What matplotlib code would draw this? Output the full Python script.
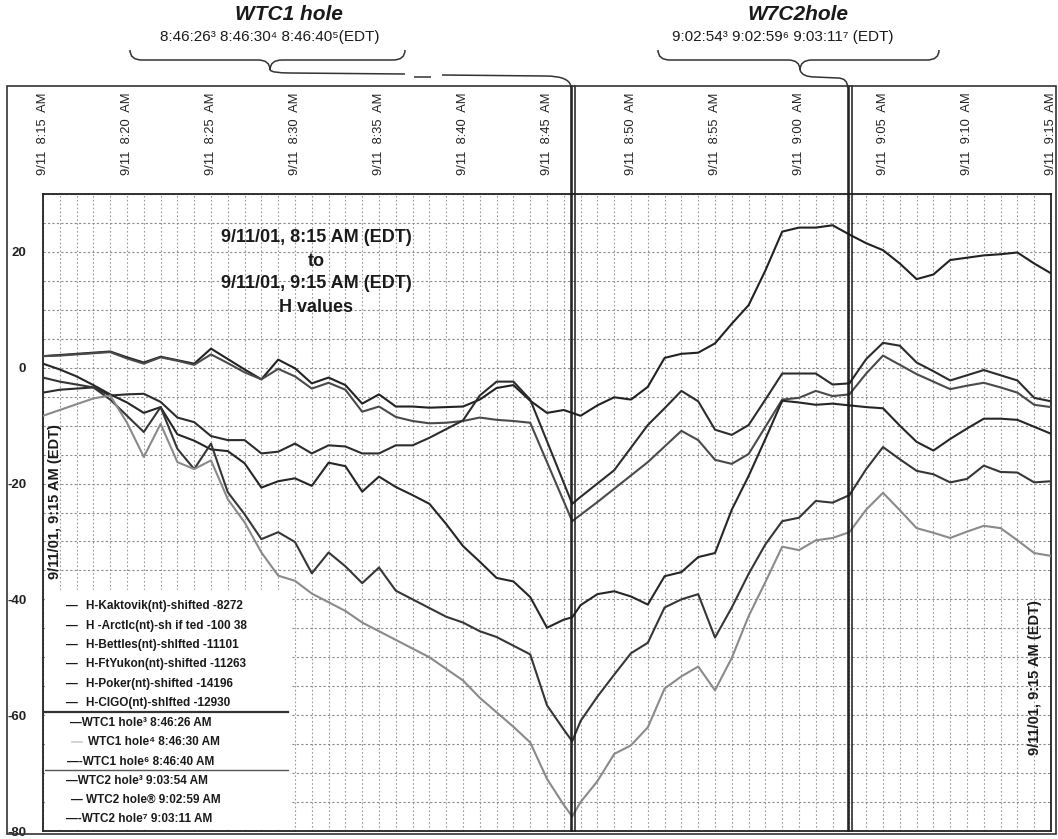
import matplotlib
matplotlib.use('Agg')
import matplotlib.pyplot as plt
from matplotlib.path import Path
from matplotlib.patches import PathPatch, Rectangle
from matplotlib.lines import Line2D

plt.rcParams['font.family'] = ['Liberation Sans', 'DejaVu Sans']

# ---------------- data ----------------
# minutes after 9/11 8:15 AM (EDT)
minutes = [0, 1, 2, 3, 4, 5, 6, 7, 8, 9, 10, 11, 12, 13, 14, 15, 16, 17, 18, 19,
           20, 21, 22, 23, 24, 25, 26, 27, 28, 29, 30, 31, 31.5,
           32, 33, 34, 35, 36, 37, 38, 39, 40, 41, 42, 43, 44, 45, 46, 47, 48, 49,
           50, 51, 52, 53, 54, 55, 56, 57, 58, 59, 60]

kaktovik = [2.0, 2.2, 2.4, 2.6, 2.8, 1.8, 0.9, 1.9, 1.3, 0.7,
            3.3, 1.5, -0.3, -2.0, 1.4, -0.1, -2.7, -1.7, -3.0, -6.2,
            -4.6, -6.7, -6.7, -6.9, -6.8, -6.7, -5.5, -3.5, -3.0, -5.7,
            -7.8, -7.3, -7.8,
            -8.3, -6.5, -5.1, -5.5, -3.3, 1.7, 2.4, 2.6,
            4.2, 7.6, 10.8, 16.8, 23.5, 24.2, 24.2, 24.6, 23.0, 21.5,
            20.3, 18.0, 15.3, 16.1, 18.6, 19.0, 19.4, 19.6, 19.9, 18.0, 16.3]

arctic = [2.0, 2.1, 2.3, 2.5, 2.7, 1.6, 0.7, 1.8, 1.2, 0.5,
          2.3, 0.8, -0.8, -2.0, -0.2, -1.5, -3.6, -2.6, -3.8, -7.6,
          -6.7, -8.5, -9.2, -9.6, -9.5, -9.2, -8.6, -9.0, -9.2, -9.5,
          -16.3, -23.1, -26.5,
          -25.4, -23.2, -20.9, -18.6, -16.3, -13.6, -10.9, -12.5,
          -15.9, -16.6, -14.9, -10.2, -5.5, -5.2, -4.0, -4.9, -4.6, -1.0,
          2.1, 0.5, -1.1, -2.4, -3.7, -3.1, -2.6, -3.4, -4.3, -6.4, -6.8]

bettles = [-4.3, -3.8, -3.6, -3.4, -4.8, -4.6, -4.5, -5.9, -8.6, -9.4,
           -11.8, -12.5, -12.5, -14.8, -14.5, -13.1, -14.8, -13.4, -13.6, -14.8,
           -14.8, -13.4, -13.4, -12.1, -10.6, -9.1, -4.8, -2.4, -2.4, -5.5,
           -12.7, -19.9, -23.5,
           -22.3, -20.0, -17.7, -13.8, -9.9, -7.0, -4.0, -5.8,
           -10.7, -11.6, -9.9, -5.5, -1.0, -1.0, -1.0, -2.9, -2.7, 1.5,
           4.3, 3.8, 0.9, -0.6, -2.2, -1.3, -0.4, -1.3, -2.2, -5.2, -5.8]

ftyukon = [0.7, -0.3, -1.5, -3.0, -4.6, -6.0, -7.8, -6.8, -11.5, -12.6,
           -14.1, -14.4, -16.5, -20.7, -19.6, -19.1, -20.4, -16.4, -17.0, -21.4,
           -18.8, -20.6, -22.0, -23.5, -27.0, -30.8, -33.5, -36.3, -36.9, -39.6,
           -44.9, -43.5, -43.1,
           -41.0, -39.1, -38.6, -39.5, -40.9, -36.0, -35.3, -32.7,
           -32.0, -24.5, -18.7, -12.3, -5.7, -6.0, -6.4, -6.2, -6.5, -6.8,
           -7.0, -10.0, -12.8, -14.3, -12.3, -10.5, -8.8, -8.8, -9.0, -10.2, -11.4]

poker = [-1.7, -2.4, -2.9, -3.4, -5.5, -8.3, -11.1, -6.8, -14.0, -17.5,
         -13.1, -21.5, -25.3, -29.6, -28.4, -30.1, -35.5, -31.9, -34.3, -37.2,
         -34.5, -38.5, -40.0, -41.5, -43.0, -44.0, -45.5, -46.5, -48.0, -49.5,
         -58.3, -62.5, -64.5,
         -61.0, -56.8, -53.0, -49.3, -47.5, -41.4, -40.0, -39.1,
         -46.6, -41.4, -35.6, -30.5, -26.5, -25.9, -23.0, -23.3, -22.0, -17.5,
         -13.7, -15.8, -17.8, -18.4, -19.8, -19.2, -16.9, -18.0, -18.1, -19.8, -19.6]

cigo = [-8.3, -7.3, -6.3, -5.3, -4.8, -9.5, -15.4, -9.7, -16.3, -17.5,
        -16.0, -22.7, -26.7, -31.9, -35.9, -36.8, -39.0, -40.5, -42.0, -44.0,
        -45.5, -47.0, -48.5, -50.0, -52.0, -54.0, -57.0, -59.5, -62.0, -64.7,
        -71.0, -75.5, -77.5,
        -75.0, -71.4, -66.7, -65.2, -62.1, -55.4, -53.3, -51.6,
        -55.7, -50.1, -42.9, -37.0, -30.9, -31.5, -29.8, -29.4, -28.4, -24.5,
        -21.6, -24.6, -27.7, -28.5, -29.4, -28.3, -27.3, -27.7, -29.8, -32.0, -32.5]

series_labels = ['H-Kaktovik(nt)-shifted -8272',
                 'H -Arctlc(nt)-sh if ted -100 38',
                 'H-Bettles(nt)-shlfted -11101',
                 'H-FtYukon(nt)-shifted -11263',
                 'H-Poker(nt)-shifted -14196',
                 'H-CIGO(nt)-shlfted -12930']
series_values = [kaktovik, arctic, bettles, ftyukon, poker, cigo]
series_colors = ['#222222', '#4a4a4a', '#2c2c2c', '#262626', '#363636', '#8a8a8a']

tick_minutes = [0, 5, 10, 15, 20, 25, 30, 35, 40, 45, 50, 55, 60]
tick_labels = ['9/11  8:15  AM', '9/11  8:20  AM', '9/11  8:25  AM', '9/11  8:30  AM',
               '9/11  8:35  AM', '9/11  8:40  AM', '9/11  8:45  AM', '9/11  8:50  AM',
               '9/11  8:55  AM', '9/11  9:00  AM', '9/11  9:05  AM', '9/11  9:10  AM',
               '9/11  9:15  AM']
y_ticks = [-80, -60, -40, -20, 0, 20]

wtc1_times = ['8:46:26', '8:46:30', '8:46:40']
wtc2_times = ['9:02:54', '9:02:59', '9:03:11']
event_labels = ['\u2014WTC1 hole\u00b3 8:46:26 AM',
                'WTC1 hole\u2074 8:46:30 AM',
                '\u2014-WTC1 hole\u2076 8:46:40 AM',
                '\u2014WTC2 hole\u00b3 9:03:54 AM',
                '\u2014 WTC2 hole\u00ae 9:02:59 AM',
                '\u2014-WTC2 hole\u2077 9:03:11 AM']


def to_min(s):
    h, m, sec = [int(v) for v in s.split(':')]
    return (h - 8) * 60 + m - 15 + sec / 60.0


# ---------------- figure ----------------
W, H = 1058, 839
fig = plt.figure(figsize=(W / 100, H / 100), dpi=100)
fig.patch.set_facecolor('white')


def fx(x):
    return x / W


def fy(y):
    return 1 - y / H


L, R, T, B = 43, 1051, 194, 831
ax = fig.add_axes([fx(L), fy(B), (R - L) / W, (B - T) / H])
ax.set_xlim(0, 60)
ax.set_ylim(-80, 30)

ax.set_xticks(tick_minutes)
ax.set_xticks(range(0, 61), minor=True)
ax.set_xticklabels(tick_labels)
ax.set_yticks(y_ticks)
ax.set_yticks(range(-80, 31, 5), minor=True)
ax.set_yticklabels([str(v) for v in y_ticks])
ax.xaxis.tick_top()
ax.tick_params(axis='x', which='both', length=0, pad=14, labelsize=9.3,
               labelrotation=90, colors='#222222')
ax.tick_params(axis='y', which='both', length=0, pad=12, labelsize=9.5,
               colors='#222222')
for lbl in ax.get_yticklabels():
    lbl.set_fontweight('bold')
ax.grid(which='both', axis='x', color='#9a9a9a', linestyle=(0, (1.5, 2.0)), lw=0.8)
ax.grid(which='both', axis='y', color='#8a8a8a', linestyle=(0, (2.0, 2.0)), lw=0.8)
for sp in ax.spines.values():
    sp.set_linewidth(1.3)
    sp.set_color('#222222')

for vals, col in zip(series_values, series_colors):
    ax.plot(minutes, vals, color=col, lw=1.5, zorder=3)

# event vertical lines, reaching into the header
top_ax = (B - 86) / (B - T)
for t in wtc1_times + wtc2_times:
    ax.plot([to_min(t)] * 2, [0, top_ax], transform=ax.get_xaxis_transform(),
            color='#1a1a1a', lw=1.1, clip_on=False, zorder=4)

# ---------------- header ----------------
outer = Rectangle((fx(7), fy(834)), fx(1056) - fx(7), fy(86) - fy(834),
                  transform=fig.transFigure, fill=False, lw=1.2, ec='#333333')
fig.add_artist(outer)


def brace(x0, x1, xc, y0=50, y1=60, y2=70):
    P = [(x0, y0), (x0, y1), (x0 + 12, y1), (xc - 12, y1), (xc, y1), (xc, y2),
         (x1, y0), (x1, y1), (x1 - 12, y1), (xc + 12, y1), (xc, y1), (xc, y2)]
    C = [Path.MOVETO, Path.CURVE3, Path.CURVE3, Path.LINETO, Path.CURVE3, Path.CURVE3] * 2
    verts = [(fx(a), fy(b)) for a, b in P]
    fig.add_artist(PathPatch(Path(verts, C), transform=fig.transFigure,
                             fill=False, lw=1.1, ec='#333333'))


def connector(pts, codes):
    verts = [(fx(a), fy(b)) for a, b in pts]
    fig.add_artist(PathPatch(Path(verts, codes), transform=fig.transFigure,
                             fill=False, lw=1.1, ec='#333333'))


brace(130, 405, 270)
connector([(270, 70), (272, 73), (290, 73), (405, 74)],
          [Path.MOVETO, Path.CURVE3, Path.CURVE3, Path.LINETO])
connector([(414, 77), (431, 77)], [Path.MOVETO, Path.LINETO])
x_w1 = L + to_min(wtc1_times[0]) / 60 * (R - L)
connector([(442, 75), (545, 76), (x_w1, 76), (x_w1, 88)],
          [Path.MOVETO, Path.LINETO, Path.CURVE3, Path.CURVE3])

brace(658, 939, 800)
x_w2 = L + to_min(wtc2_times[0]) / 60 * (R - L)
connector([(800, 70), (802, 77), (815, 77), (x_w2 - 10, 78), (x_w2, 78), (x_w2, 88)],
          [Path.MOVETO, Path.CURVE3, Path.CURVE3, Path.LINETO, Path.CURVE3, Path.CURVE3])

fig.text(fx(289), fy(14), 'WTC1 hole', fontsize=15, fontweight='bold',
         fontstyle='italic', ha='center', va='center', color='#1a1a1a')
fig.text(fx(270), fy(37), '8:46:26\u00b3 8:46:30\u2074 8:46:40\u2075(EDT)',
         fontsize=11, ha='center', va='center', color='#1a1a1a')
fig.text(fx(798), fy(14), 'W7C2hole', fontsize=15, fontweight='bold',
         fontstyle='italic', ha='center', va='center', color='#1a1a1a')
fig.text(fx(783), fy(37), '9:02:54\u00b3 9:02:59\u2076 9:03:11\u2077 (EDT)',
         fontsize=11, ha='center', va='center', color='#1a1a1a')

# ---------------- annotations ----------------
for txt, yy in zip(['9/11/01, 8:15 AM (EDT)', 'to', '9/11/01, 9:15 AM (EDT)', 'H values'],
                   [238, 261, 284, 307]):
    fig.text(fx(316), fy(yy), txt, fontsize=13, fontweight='bold',
             ha='center', va='center', color='#1a1a1a')

fig.text(fx(55), fy(502), '9/11/01, 9:15 AM (EDT)', rotation=90, fontsize=10.5,
         fontweight='bold', ha='center', va='center', color='#1a1a1a')
fig.text(fx(1035), fy(678), '9/11/01, 9:15 AM (EDT)', rotation=90, fontsize=10.5,
         fontweight='bold', ha='center', va='center', color='#1a1a1a')

# ---------------- legend ----------------
fig.add_artist(Rectangle((fx(45), fy(829)), fx(290) - fx(45), fy(590) - fy(829),
                         transform=fig.transFigure, fc='white', ec='none', zorder=5))
rows_h = [606, 626, 645, 664, 684, 703]
for lab, yy in zip(series_labels, rows_h):
    fig.text(fx(66), fy(yy), '\u2014', fontsize=8.5, fontweight='bold',
             va='center', color='#1a1a1a', zorder=6)
    fig.text(fx(86), fy(yy), lab, fontsize=8.5, fontweight='bold',
             va='center', color='#1a1a1a', zorder=6)
rows_e = [723, 742, 762, 781, 800, 819]
x_e = [70, 88, 67, 66, 71, 66]
for lab, yy, xx in zip(event_labels, rows_e, x_e):
    fig.text(fx(xx), fy(yy), lab, fontsize=8.5, fontweight='bold',
             va='center', color='#1a1a1a', zorder=6)
fig.add_artist(Line2D([fx(72), fx(82)], [fy(742), fy(742)], transform=fig.transFigure,
                      color='#cccccc', lw=1.2, zorder=6))
fig.add_artist(Line2D([fx(45), fx(288)], [fy(712), fy(712)], transform=fig.transFigure,
                      color='#333333', lw=1.6, zorder=6))
fig.add_artist(Line2D([fx(45), fx(288)], [fy(770), fy(770)], transform=fig.transFigure,
                      color='#555555', lw=1.0, zorder=6))

fig.savefig('out.png', dpi=100)
